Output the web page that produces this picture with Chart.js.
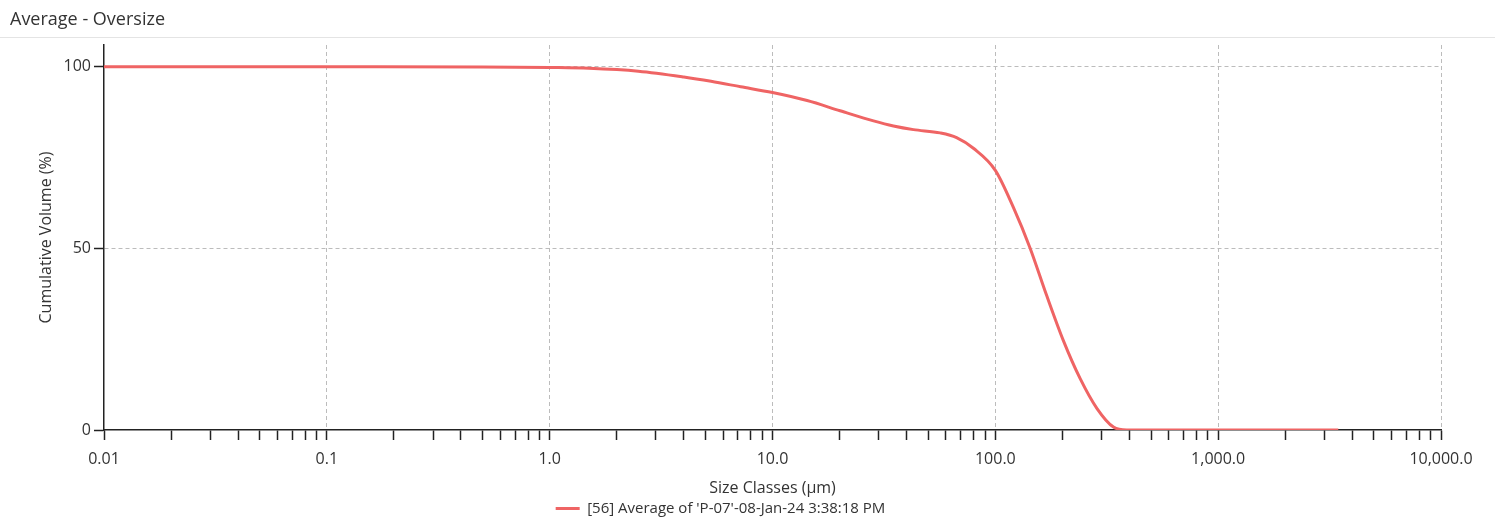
<!DOCTYPE html>
<html lang="en">
<head>
<meta charset="UTF-8">
<title>Average - Oversize</title>
<script src="https://cdn.jsdelivr.net/npm/chart.js"></script>
<style>
  body { margin: 0; background: #fff; font-family: "Open Sans", sans-serif; }
  .wrap { position: relative; width: 1502px; height: 529px; }
  .titulo { position: absolute; left: 10px; top: 6px; font-size: 18px; color: #333; }
  .linha { position: absolute; left: 0; top: 37px; width: 1495px; border-top: 1px solid #e4e4e4; }
  canvas { position: absolute; left: 0; top: 0; }
</style>
</head>
<body>
<div class="wrap">
  <canvas id="grafico" width="1502" height="529"></canvas>
  <div class="titulo">Average - Oversize</div>
  <div class="linha"></div>
</div>

<script>
// particle size (µm) and cumulative oversize volume (%)
const sizes    = [0.01, 0.1, 0.5, 1.0, 1.5, 2.5, 4, 5.3, 7.2, 10, 14.3, 20.1, 28.4, 34.9, 42.9, 56.5, 67, 80, 100, 120.5, 143, 170, 202, 240, 286, 339, 389, 500, 1000, 3460];
const oversize = [100, 100, 99.95, 99.8, 99.6, 98.8, 97.2, 96.0, 94.5, 92.9, 90.7, 87.9, 85.1, 83.7, 82.7, 81.8, 80.5, 77.5, 71.5, 61.3, 50.2, 37.0, 24.6, 14.2, 5.9, 0.8, 0, 0, 0, 0];

const majorTicks = [0.01, 0.1, 1, 10, 100, 1000, 10000];
const tickLabels = ['0.01', '0.1', '1.0', '10.0', '100.0', '1,000.0', '10,000.0'];
const yTicks = [0, 50, 100];

const seriesLabel = "[56] Average of 'P-07'-08-Jan-24 3:38:18 PM";

// minor ticks 2..9 in every decade
let xTicks = [];
for (let i = 0; i < majorTicks.length; i++) {
    xTicks.push(majorTicks[i]);
    if (i < majorTicks.length - 1) {
        for (let m = 2; m <= 9; m++) xTicks.push(+(majorTicks[i] * m).toPrecision(6));
    }
}

function ehMaior(v) {
    return majorTicks.some(t => Math.abs(t - v) / t < 1e-6);
}

const fonte = { family: '"Open Sans", sans-serif', size: 16 };

new Chart(document.getElementById('grafico'), {
    type: 'line',
    data: {
        datasets: [{
            label: seriesLabel,
            data: sizes.map((s, i) => ({ x: s, y: oversize[i] })),
            borderColor: '#ef6464',
            backgroundColor: '#ef6464',
            borderWidth: 3,
            pointRadius: 0,
            cubicInterpolationMode: 'monotone',
            fill: false
        }]
    },
    options: {
        responsive: false,
        animation: false,
        layout: { padding: { top: 45, right: 61, bottom: 3, left: 0 } },
        plugins: {
            tooltip: { enabled: false },
            legend: {
                position: 'bottom',
                labels: {
                    color: '#333',
                    font: { family: '"Open Sans", sans-serif', size: 15 },
                    usePointStyle: true,
                    pointStyle: 'line',
                    pointStyleWidth: 24,
                    padding: 3
                }
            }
        },
        scales: {
            x: {
                type: 'logarithmic',
                min: 0.01,
                max: 10000,
                afterBuildTicks: (scale) => { scale.ticks = xTicks.map(v => ({ value: v })); },
                afterFit: (scale) => { scale.height = 68; },
                ticks: {
                    autoSkip: false,
                    maxRotation: 0,
                    padding: 10,
                    color: '#333',
                    font: fonte,
                    callback: (v) => {
                        const i = majorTicks.findIndex(t => Math.abs(t - v) / t < 1e-6);
                        return i >= 0 ? tickLabels[i] : '';
                    }
                },
                grid: {
                    color: (ctx) => (ctx.tick && ehMaior(ctx.tick.value) && ctx.tick.value !== 0.01) ? '#bcbcbc' : 'rgba(0,0,0,0)',
                    tickColor: '#222',
                    tickBorderDash: [],
                    tickLength: 10,
                    lineWidth: 1,
                    tickWidth: 1.5
                },
                border: { color: '#222', width: 1.5, dash: [4, 3] },
                title: {
                    display: true,
                    text: 'Size Classes (µm)',
                    color: '#333',
                    font: fonte,
                    padding: { top: 4, bottom: 0 }
                }
            },
            y: {
                min: 0,
                max: 106,
                afterBuildTicks: (scale) => { scale.ticks = yTicks.map(v => ({ value: v })); },
                afterFit: (scale) => { scale.width = 104; },
                ticks: {
                    padding: 3,
                    color: '#333',
                    font: fonte,
                    callback: (v) => String(v)
                },
                grid: {
                    color: (ctx) => (ctx.tick && ctx.tick.value > 0) ? '#bcbcbc' : 'rgba(0,0,0,0)',
                    tickColor: '#222',
                    tickBorderDash: [],
                    tickLength: 10,
                    lineWidth: 1,
                    tickWidth: 1.5
                },
                border: { color: '#222', width: 1.5, dash: [4, 3] },
                title: {
                    display: true,
                    text: 'Cumulative Volume (%)',
                    color: '#333',
                    font: fonte,
                    padding: { top: 37, bottom: 0 }
                }
            }
        }
    }
});
</script>
</body>
</html>
